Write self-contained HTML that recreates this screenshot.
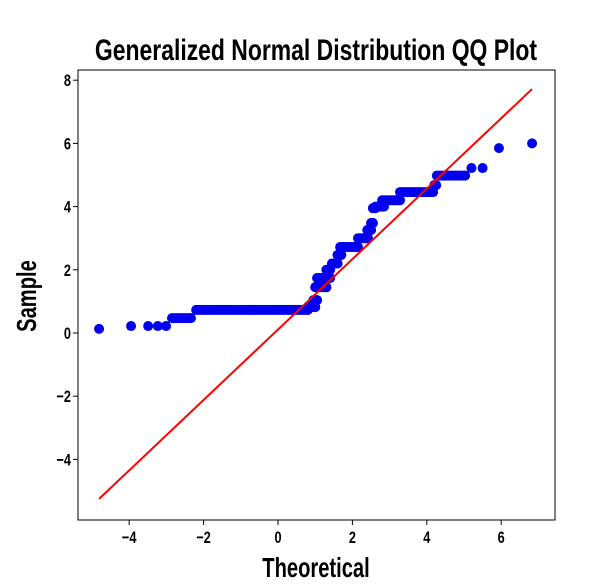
<!DOCTYPE html>
<html><head><meta charset="utf-8"><style>
body{margin:0;background:#fff;}
svg{display:block;font-family:"Liberation Sans",sans-serif;}
</style></head><body>
<svg id="chart" width="615" height="584">
<rect x="78" y="70" width="477" height="450" fill="#fff" stroke="#000" stroke-width="1"/>
<g id="ticks"></g>
<g id="marks"></g>
<text x="316" y="60" text-anchor="middle" font-size="30" font-weight="bold" transform="translate(316,0) scale(0.765,1) translate(-316,0)">Generalized Normal Distribution QQ Plot</text>
<text x="316" y="577" text-anchor="middle" font-size="28" font-weight="bold" transform="translate(316,0) scale(0.72,1) translate(-316,0)">Theoretical</text>
<text x="0" y="0" text-anchor="middle" font-size="28" font-weight="bold" transform="translate(36,296) rotate(-90) scale(0.72,1)">Sample</text>
</svg>
<script>
const xTicks=[-4,-2,0,2,4,6];
const yTicks=[-4,-2,0,2,4,6,8];
// isolated points
const singleX=[-4.81,-3.95,-3.49,-3.23,-3.01,5.2,5.5,5.94,6.83];
const singleY=[0.13,0.22,0.22,0.22,0.22,5.22,5.22,5.85,6.0];
// steps: theoretical start, end, sample value
const stepX0=[-2.85,-2.2,0.8,0.95,1.0,1.05,1.3,1.45,1.6,1.67,2.15,2.4,2.5,2.55,2.62,2.8,3.28,4.2,4.27];
const stepX1=[-2.34,0.8,1.0,1.05,1.3,1.4,1.4,1.6,1.7,2.15,2.42,2.5,2.55,2.62,2.85,3.28,4.17,4.25,5.03];
const stepY=[0.47,0.73,0.82,1.04,1.45,1.74,2.0,2.2,2.47,2.72,3.0,3.26,3.48,3.95,4.0,4.2,4.46,4.68,4.98];
const lineX=[-4.81,6.83];
const lineY=[-5.25,7.72];
const sx=t=>278+37.2*t, sy=v=>333-31.6*v;
const NS="http://www.w3.org/2000/svg";
const tg=document.getElementById('ticks'), mg=document.getElementById('marks');
function mk(tag,attrs,parent){const e=document.createElementNS(NS,tag);for(const k in attrs)e.setAttribute(k,attrs[k]);parent.appendChild(e);return e;}
xTicks.forEach(t=>{
 const l=mk('line',{x1:sx(t),x2:sx(t),y1:520,y2:525,stroke:'#000'},tg);
 
 
 const tx=mk('text',{x:0,y:0,'text-anchor':'middle','font-size':17,'font-weight':'bold',transform:'translate('+sx(t)+',543) scale(0.75,1)'},tg);
 tx.textContent=(t<0?'\u2212'+(-t):t);
 
 
});
yTicks.forEach(v=>{
 const l=mk('line',{x1:73,x2:78,y1:sy(v),y2:sy(v),stroke:'#000'},tg);
 
 
 const tx=mk('text',{x:0,y:0,'text-anchor':'end','font-size':17,'font-weight':'bold',transform:'translate(71,'+(sy(v)+6)+') scale(0.75,1)'},tg);
 tx.textContent=(v<0?'\u2212'+(-v):v);
 
 
});
function dot(t,v){
 const c=mk('circle',{cx:sx(t),cy:sy(v),r:5,fill:'#0000ee'},mg);
 
 
}
singleX.forEach((t,i)=>dot(t,singleY[i]));
stepX0.forEach((t0,i)=>{const t1=stepX1[i];for(let t=t0;t<=t1+1e-9;t+=0.05)dot(t,stepY[i]);dot(t1,stepY[i]);});
const ln=mk('line',{x1:sx(lineX[0]),y1:sy(lineY[0]),x2:sx(lineX[1]),y2:sy(lineY[1]),stroke:'#ff0000','stroke-width':2},mg);


</script>
</body></html>
